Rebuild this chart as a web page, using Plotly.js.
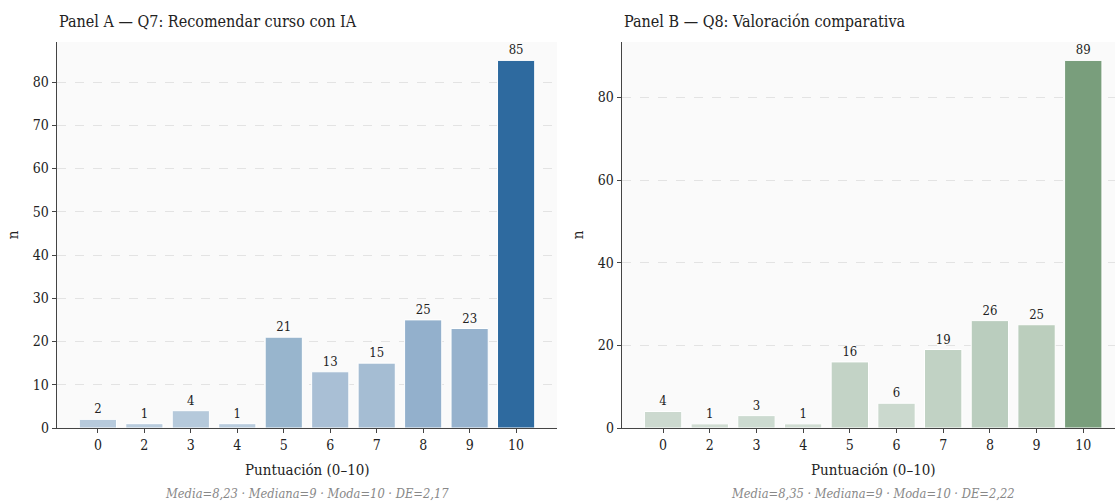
<!DOCTYPE html>
<html>
<head>
<meta charset="utf-8">
<script src="https://cdn.plot.ly/plotly-3.0.1.min.js"></script>
<style>html,body{margin:0;padding:0;background:#fff;}#chart{width:1115px;height:501px;}</style>
</head>
<body>
<div id="chart"></div>
<script>
const categories = ['0','2','3','4','5','6','7','8','9','10'];
const valuesA = [2, 1, 4, 1, 21, 13, 15, 25, 23, 85];
const valuesB = [4, 1, 3, 1, 16, 6, 19, 26, 25, 89];
const colorsA = ['#b7cadc','#b9ccdd','#b5c9db','#b9ccdd','#98b5cd','#a9bfd5','#a5bdd3','#93b0cc','#96b2cd','#2e6a9f'];
const colorsB = ['#ccd9cf','#d0dcd2','#ccdad0','#d0dcd2','#c3d3c6','#cbd9ce','#c1d2c4','#bacdbe','#bbcebd','#799e7c'];
const titleA = 'Panel A — Q7: Recomendar curso con IA';
const titleB = 'Panel B — Q8: Valoración comparativa';
const xTitle = 'Puntuación (0–10)';
const yTitle = 'n';
const statsA = 'Media=8,23 · Mediana=9 · Moda=10 · DE=2,17';
const statsB = 'Media=8,35 · Mediana=9 · Moda=10 · DE=2,22';

const FONT = 'DejaVu Serif Condensed, DejaVu Serif, serif';

function bar(vals, cols, xa, ya) {
  return {
    type: 'bar', x: categories, y: vals, xaxis: xa, yaxis: ya,
    marker: {color: cols, line: {color: '#ffffff', width: 1}},
    width: 0.8,
    text: vals.map(String), textposition: 'outside', cliponaxis: false,
    textfont: {family: FONT, size: 13, color: '#222'},
    hoverinfo: 'skip'
  };
}

const L = 57, W = 1115, plotW = W - L;
const dA = [0, 500 / plotW];
const dB = [(622 - L) / plotW, 1];
const centerA = (dA[0] + dA[1]) / 2;
const centerB = (873 - L) / plotW;

function xaxis(domain, range, anchor) {
  return {
    domain: domain, range: range, type: 'category', anchor: anchor,
    showline: true, linecolor: '#444', linewidth: 1.3,
    ticks: 'outside', ticklen: 4, tickcolor: '#444', tickwidth: 1,
    tickfont: {family: FONT, size: 14, color: '#222'},
    showgrid: false, zeroline: false
  };
}
function yaxis(range, dtick, anchor) {
  return {
    range: range, dtick: dtick, anchor: anchor,
    showline: true, linecolor: '#444', linewidth: 1.3,
    ticks: 'outside', ticklen: 4, tickcolor: '#444', tickwidth: 1,
    tickfont: {family: FONT, size: 14, color: '#222'},
    showgrid: true, gridcolor: '#dddddd', gridwidth: 0.8, griddash: 'dash',
    zeroline: false,
    title: {text: yTitle, font: {family: FONT, size: 15, color: '#222'}, standoff: 10}
  };
}

function ann(text, x, y, xanchor, yanchor, yshift, size, color) {
  return {text: text, xref: 'paper', yref: 'paper', x: x, y: y, xanchor: xanchor, yanchor: yanchor,
          yshift: yshift, showarrow: false, font: {family: FONT, size: size, color: color}};
}

const layout = {
  width: 1115, height: 501,
  margin: {l: L, r: 0, t: 42, b: 73},
  paper_bgcolor: '#ffffff', plot_bgcolor: '#fafafa',
  showlegend: false, bargap: 0.2,
  xaxis: xaxis(dA, [-0.88, 9.88], 'y'),
  yaxis: yaxis([0, 85 * 1.05], 10, 'x'),
  xaxis2: xaxis(dB, [-0.88, 9.68], 'y2'),
  yaxis2: yaxis([0, 89 * 1.05], 20, 'x2'),
  annotations: [
    ann(titleA, dA[0], 1, 'left', 'bottom', 9, 16, '#222'),
    ann(titleB, dB[0], 1, 'left', 'bottom', 9, 16, '#222'),
    ann(xTitle, centerA, 0, 'center', 'top', -31, 15, '#222'),
    ann(xTitle, centerB, 0, 'center', 'top', -31, 15, '#222'),
    ann('<i>' + statsA + '</i>', centerA, 0, 'center', 'top', -56, 12.8, '#888'),
    ann('<i>' + statsB + '</i>', centerB, 0, 'center', 'top', -56, 12.8, '#888')
  ]
};

Plotly.newPlot('chart', [bar(valuesA, colorsA, 'x', 'y'), bar(valuesB, colorsB, 'x2', 'y2')], layout, {displayModeBar: false, staticPlot: true});
</script>
</body>
</html>
